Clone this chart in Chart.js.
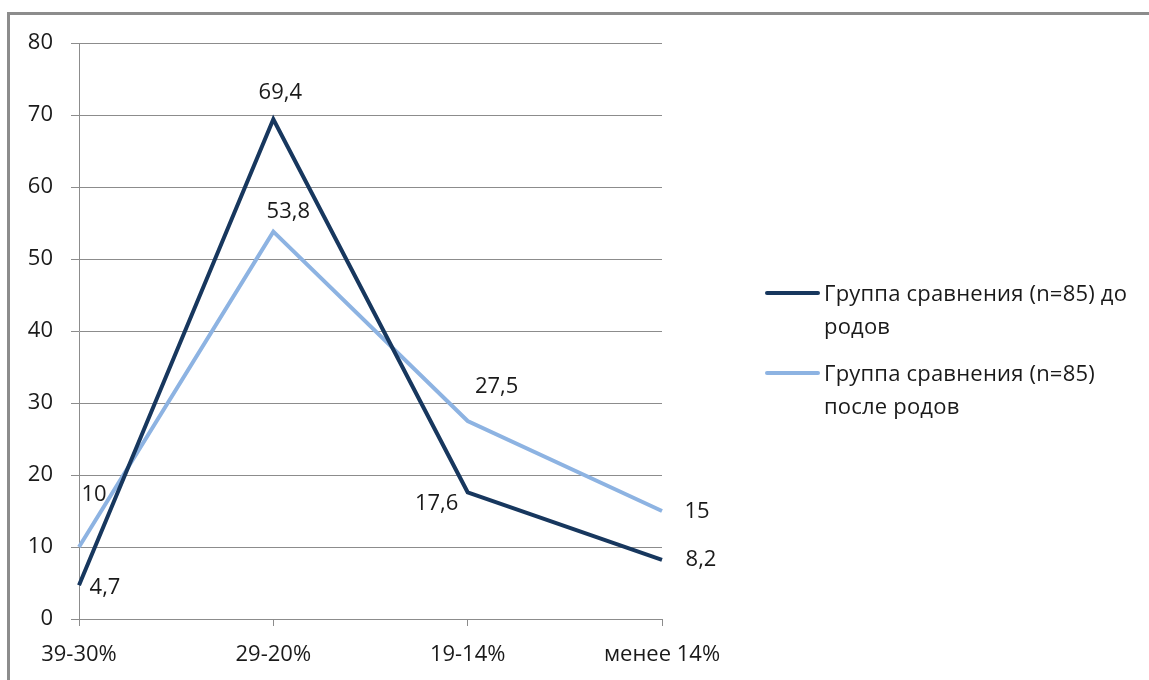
<!DOCTYPE html>
<html lang="ru">
<head>
<meta charset="utf-8">
<title>Группа сравнения (n=85)</title>
<script src="https://cdn.jsdelivr.net/npm/chart.js@4/dist/chart.umd.min.js"></script>
<style>
  html, body { margin: 0; padding: 0; background: #fff; }
  #wrap { position: relative; width: 1149px; height: 680px; overflow: hidden; }
  #frame {
    position: absolute; left: 7px; top: 12px; width: 1200px; height: 700px;
    border-top: 3px solid #8c8c8c; border-left: 3px solid #8c8c8c;
    box-sizing: border-box;
  }
  #chart { position: absolute; left: 0; top: 0; }
  .legend { position: absolute; left: 765px; font-family: "Open Sans", sans-serif;
            font-size: 22px; color: #1a1a1a; line-height: 33px; letter-spacing: 0.2px; }
  .legend .item { position: relative; padding-left: 59px; margin-bottom: 14px; width: 330px; white-space: nowrap; }
  .legend .swatch { position: absolute; left: 0; top: 15px; width: 55px; height: 4px; border-radius: 2px; }
</style>
</head>
<body>
<div id="wrap">
  <div id="frame"></div>
  <canvas id="chart" width="1149" height="680"></canvas>
  <div class="legend" id="legend" style="top:276px"></div>
</div>
<script>
// Категории по оси X
const categories = ["39-30%", "29-20%", "19-14%", "менее 14%"];
// Ряды данных
const seriesNames = ["Группа сравнения (n=85) до родов", "Группа сравнения (n=85) после родов"];
const beforeBirth = [4.7, 69.4, 17.6, 8.2];
const afterBirth = [10, 53.8, 27.5, 15];
// Деления оси Y
const yMin = 0, yMax = 80, yStep = 10;

const colors = ["#17375e", "#8db3e2"];

// Смещения подписей значений относительно точек (в пикселях)
const labelOffsets = [
  [[26, 3], [7, -27], [-31, 11], [39, 0]],
  [[15, -52], [15, -20], [29, -34], [35, 1]]
];

const fontFamily = '"Open Sans", sans-serif';

const valueLabels = {
  id: "valueLabels",
  afterDatasetsDraw(chart) {
    const ctx = chart.ctx;
    ctx.save();
    ctx.font = "22px " + fontFamily;
    ctx.fillStyle = "#1a1a1a";
    ctx.textAlign = "center";
    ctx.textBaseline = "middle";
    chart.data.datasets.forEach((ds, di) => {
      const meta = chart.getDatasetMeta(di);
      meta.data.forEach((pt, i) => {
        const off = labelOffsets[di][i];
        const txt = String(ds.data[i]).replace(".", ",");
        ctx.fillText(txt, pt.x + off[0], pt.y + off[1]);
      });
    });
    ctx.restore();
  }
};

const chart = new Chart(document.getElementById("chart"), {
  type: "line",
  data: {
    labels: categories,
    datasets: [
      { label: seriesNames[0], data: beforeBirth, borderColor: colors[0], backgroundColor: colors[0],
        borderWidth: 4, pointRadius: 0, tension: 0, borderJoinStyle: "miter" },
      { label: seriesNames[1], data: afterBirth, borderColor: colors[1], backgroundColor: colors[1],
        borderWidth: 4, pointRadius: 0, tension: 0, borderJoinStyle: "miter" }
    ]
  },
  options: {
    responsive: false,
    animation: false,
    layout: { padding: { left: 0, top: 43, right: 487, bottom: 0 } },
    plugins: { legend: { display: false }, tooltip: { enabled: false } },
    scales: {
      x: {
        offset: false,
        grid: { drawOnChartArea: false, drawTicks: true, tickLength: 7, color: "#8c8c8c", lineWidth: 1 },
        border: { display: true, color: "#8c8c8c", width: 1 },
        ticks: { color: "#1a1a1a", font: { family: fontFamily, size: 22 }, padding: 16, maxRotation: 0, autoSkip: false },
        afterFit(scale) { scale.height = 61; }
      },
      y: {
        min: yMin, max: yMax,
        grid: { color: "#8c8c8c", lineWidth: 1, tickLength: 8 },
        border: { display: true, color: "#8c8c8c", width: 1 },
        ticks: { stepSize: yStep, color: "#1a1a1a", font: { family: fontFamily, size: 22 }, padding: 18 },
        afterFit(scale) { scale.width = 79; }
      }
    }
  },
  plugins: [valueLabels]
});

// Легенда
const legend = document.getElementById("legend");
const legendLines = [["Группа сравнения (n=85) до", "родов"], ["Группа сравнения (n=85)", "после родов"]];
legendLines.forEach((lines, i) => {
  const item = document.createElement("div");
  item.className = "item";
  const sw = document.createElement("div");
  sw.className = "swatch";
  sw.style.background = colors[i];
  item.appendChild(sw);
  lines.forEach(t => {
    const d = document.createElement("div");
    d.textContent = t;
    item.appendChild(d);
  });
  legend.appendChild(item);
});
</script>
</body>
</html>
